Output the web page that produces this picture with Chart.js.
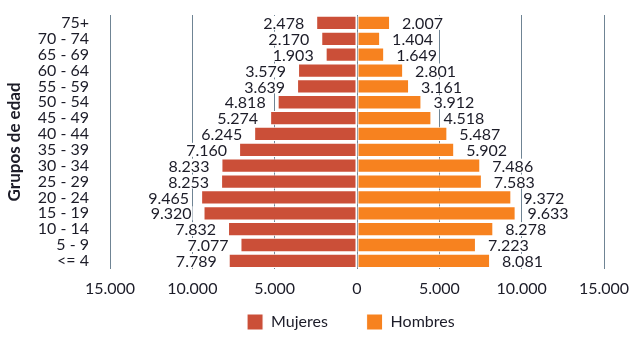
<!DOCTYPE html>
<html>
<head>
<meta charset="utf-8">
<script src="https://cdn.jsdelivr.net/npm/chart.js@4/dist/chart.umd.min.js"></script>
<style>
  html, body { margin: 0; padding: 0; background: #fff; }
  #wrap { width: 640px; height: 340px; }
</style>
</head>
<body>
<div id="wrap"><canvas id="myChart" width="640" height="340"></canvas></div>
<script>
// datos (de arriba hacia abajo)
const grupos = ['75+', '70 - 74', '65 - 69', '60 - 64', '55 - 59', '50 - 54', '45 - 49', '40 - 44',
                '35 - 39', '30 - 34', '25 - 29', '20 - 24', '15 - 19', '10 - 14', '5 - 9', '<= 4'];
const mujeres = [2478, 2170, 1903, 3579, 3639, 4818, 5274, 6245, 7160, 8233, 8253, 9465, 9320, 7832, 7077, 7789];
const hombres = [2007, 1404, 1649, 2801, 3161, 3912, 4518, 5487, 5902, 7486, 7583, 9372, 9633, 8278, 7223, 8081];
const ejeX = [-15000, -10000, -5000, 0, 5000, 10000, 15000];

const textColor = '#1c1c28';
const fontName = 'Lato, "Liberation Sans", sans-serif';

// formato 9.465
function miles(v) {
    return Math.abs(v).toString().replace(/\B(?=(\d{3})+(?!\d))/g, '.');
}

// etiquetas con fondo blanco al final de cada barra
const etiquetas = {
    id: 'etiquetas',
    afterDatasetsDraw(chart) {
        const ctx = chart.ctx;
        ctx.save();
        ctx.font = '16px ' + fontName;
        ctx.textBaseline = 'middle';
        chart.data.datasets.forEach(function(ds, i) {
            const meta = chart.getDatasetMeta(i);
            meta.data.forEach(function(bar, j) {
                const txt = miles(ds.data[j]);
                const w = ctx.measureText(txt).width;
                const izq = ds.data[j] < 0;
                const x = izq ? bar.x - 12 - w : bar.x + 12;
                ctx.fillStyle = '#fff';
                ctx.fillRect(x - 1, bar.y - 7, w + 2, 14);
                ctx.fillStyle = textColor;
                ctx.textAlign = 'left';
                ctx.fillText(txt, x, bar.y + 1);
            });
        });
        ctx.restore();
    }
};

const ctx = document.getElementById('myChart');
const config = {
    type: 'bar',
    data: {
        labels: grupos,
        datasets: [{
            label: 'Mujeres',
            data: mujeres.map(v => -v),
            backgroundColor: '#CB4F38',
            borderColor: '#ffffff',
            borderWidth: 1,
            borderSkipped: false
        }, {
            label: 'Hombres',
            data: hombres,
            backgroundColor: '#F7821F',
            borderColor: '#ffffff',
            borderWidth: 1,
            borderSkipped: false
        }]
    },
    options: {
        responsive: false,
        animation: false,
        indexAxis: 'y',
        layout: { padding: { top: 15, right: 36, left: 0, bottom: 0 } },
        datasets: { bar: { categoryPercentage: 1, barPercentage: 0.9 } },
        scales: {
            x: {
                min: -15000,
                max: 15000,
                afterBuildTicks(axis) { axis.ticks = ejeX.map(v => ({ value: v })); },
                grid: { color: '#6f8494', drawTicks: false, lineWidth: 1 },
                border: { display: false },
                ticks: {
                    padding: 10,
                    color: textColor,
                    font: { family: fontName, size: 16 },
                    callback: v => miles(v)
                }
            },
            y: {
                stacked: true,
                grid: { display: false },
                border: { display: false },
                afterFit(axis) {
                    axis.width = 110;
                    axis.paddingTop = 0;
                    axis.paddingBottom = 0;
                },
                ticks: {
                    autoSkip: false,
                    padding: 13,
                    color: textColor,
                    font: { family: fontName, size: 16 }
                },
                title: {
                    display: true,
                    text: 'Grupos de edad',
                    color: textColor,
                    font: { family: fontName, size: 17, weight: 'bold' },
                    padding: { top: 4, bottom: 0 }
                }
            }
        },
        plugins: {
            legend: {
                position: 'bottom',
                fullSize: false,
                labels: {
                    boxWidth: 16,
                    boxHeight: 16,
                    padding: 6,
                    color: textColor,
                    font: { family: fontName, size: 16 },
                    // espacio extra entre las dos entradas
                    generateLabels(chart) {
                        const items = Chart.defaults.plugins.legend.labels.generateLabels(chart);
                        items[0].text = items[0].text + '        ';
                        items[1].text = items[1].text + '   ';
                        return items;
                    }
                }
            },
            tooltip: { enabled: false }
        }
    },
    plugins: [etiquetas]
};

const myChart = new Chart(ctx, config);
</script>
</body>
</html>
